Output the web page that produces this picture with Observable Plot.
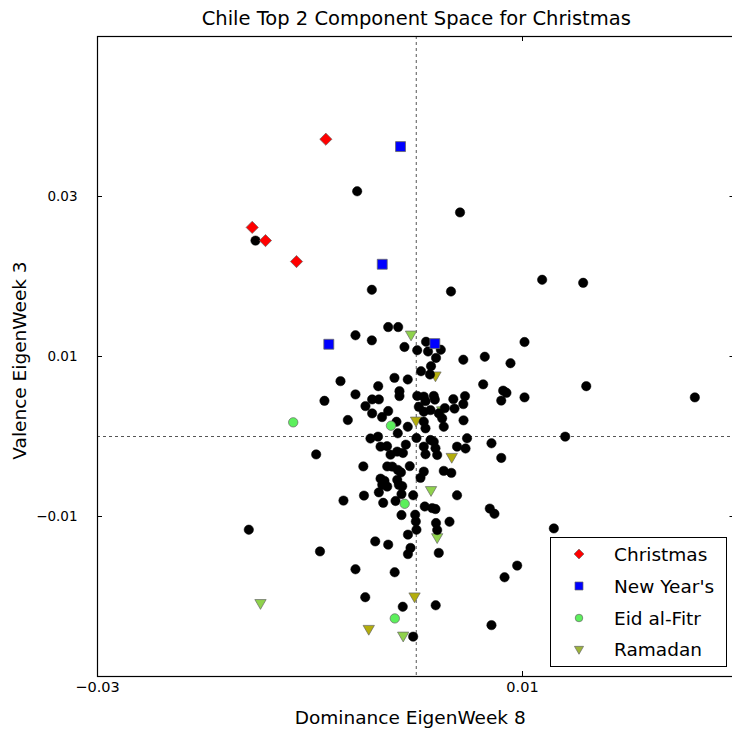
<!DOCTYPE html>
<html><head><meta charset="utf-8">
<script src="https://cdn.jsdelivr.net/npm/d3@7"></script>
<script src="https://cdn.jsdelivr.net/npm/@observablehq/plot@0.6"></script>
<style>
body{margin:0;background:#fff;overflow:hidden;}
#wrap{position:relative;width:732px;height:734px;overflow:hidden;}
#legend{position:absolute;left:550px;top:537px;width:177px;height:130px;border:1px solid #000;background:#fff;font-family:"DejaVu Sans";font-size:18.5px;color:#000;box-sizing:border-box;}
.row{position:absolute;left:0;height:24px;display:flex;align-items:center;white-space:nowrap;}
.row svg{margin-left:17px;margin-right:24px;}
</style></head><body><div id="wrap"></div>
<script>
// ---- data (Dominance EigenWeek 8, Valence EigenWeek 3) ----
const xTicks = [-0.03, 0.01];
const yTicks = [-0.01, 0.01, 0.03];
const seriesNames = ["Christmas", "New Year's", "Eid al-Fitr", "Ramadan"];
const otherWeeks = [
[-0.00556,0.03065],[0.00412,0.02801],[-0.01513,0.02449],[-0.00418,0.01834],[0.00327,0.01813],[0.01185,0.01959],[0.01571,0.01921],
[-0.00264,0.01368],[-0.00170,0.01368],[-0.00572,0.01265],[-0.00418,0.01202],[-0.00111,0.01119],[0.00009,0.01078],[0.00092,0.01184],[0.00111,0.01063],[0.00231,0.01084],[0.00186,0.00982],[0.00443,0.00960],[0.00645,0.00997],[0.00887,0.00916],[0.01019,0.01181],
[0.00139,0.00879],[0.00045,0.00816],[0.00129,0.00775],[-0.00713,0.00692],[-0.00205,0.00733],[-0.00080,0.00713],[-0.00358,0.00629],[-0.00158,0.00567],[-0.00158,0.00505],[-0.00572,0.00526],[-0.00864,0.00446],[-0.00415,0.00464],[-0.00352,0.00464],[-0.00478,0.00380],[-0.00264,0.00318],
[0.00009,0.00507],[0.00071,0.00498],[0.00165,0.00507],[0.00175,0.00461],[0.00087,0.00442],[0.00349,0.00467],[0.00459,0.00505],[0.00443,0.00405],[0.00269,0.00355],[0.00360,0.00349],[0.00024,0.00371],[0.00134,0.00330],
[0.00630,0.00652],[0.00818,0.00573],[0.00849,0.00546],[0.00800,0.00449],[0.01019,0.00489],[0.01600,0.00629],[0.02622,0.00489],
[0.00445,0.00202],[0.01402,-0.00002],[0.00478,-0.00022],[0.00384,-0.00127],[0.00464,-0.00150],[0.00708,-0.00085],[0.00800,-0.00268],[0.00330,-0.00455],[0.00259,-0.00430],[0.00384,-0.00735],[0.00692,-0.00901],[0.00736,-0.00966],[0.00313,-0.01065],[0.01295,-0.01149],
[-0.00644,0.00206],[-0.00415,0.00289],[-0.00322,0.00243],[-0.00186,0.00184],[-0.00080,0.00122],[-0.00431,-0.00025],[-0.00360,-0.00002],[-0.00174,0.00040],[0.00002,-0.00019],
[-0.00336,-0.00127],[-0.00275,-0.00121],[-0.00098,-0.00102],[-0.00242,-0.00227],[-0.00179,-0.00189],[-0.00125,-0.00206],
[-0.00498,-0.00374],[-0.00273,-0.00374],[-0.00226,-0.00376],[-0.00174,-0.00417],[-0.00061,-0.00370],[-0.00144,-0.00449],
[-0.00336,-0.00527],[-0.00299,-0.00555],[-0.00320,-0.00604],[-0.00273,-0.00626],[-0.00179,-0.00542],[-0.00164,-0.00604],[-0.00132,-0.00621],[0.00040,-0.00517],
[-0.00352,-0.00698],[-0.00492,-0.00739],[-0.00139,-0.00720],[-0.00029,-0.00735],[-0.00685,-0.00801],
[0.00071,0.00309],[0.00212,0.00289],[0.00071,0.00184],[0.00087,0.00102],[0.00244,0.00227],[0.00259,0.00122],
[0.00134,-0.00044],[0.00165,-0.00065],[0.00071,-0.00127],[0.00181,-0.00147],[0.00087,-0.00222],[0.00197,-0.00231],[0.00071,-0.00439],
[-0.00311,-0.00829],[-0.00195,-0.00806],[0.00080,-0.00875],[0.00150,-0.00895],[0.00181,-0.00907],
[-0.00139,-0.00982],[-0.00010,-0.00978],[-0.00004,-0.01062],[0.00186,-0.01082],[0.00002,-0.01165],[0.00197,-0.01169],[-0.00078,-0.01227],
[-0.00386,-0.01311],[-0.00264,-0.01352],[-0.00054,-0.01393],[-0.00078,-0.01470],[0.00212,-0.01455],[-0.00906,-0.01436],
[-0.00572,-0.01660],[-0.00203,-0.01697],[-0.00480,-0.02009],[-0.00127,-0.02128],[0.00183,-0.02110],[-0.00029,-0.02502],[0.00708,-0.02358],[0.00950,-0.01614],[0.00831,-0.01760],
[-0.01576,-0.01165],[-0.00942,-0.00224]
];
const christmas = [[-0.00851,0.03716],[-0.01544,0.02614],[-0.01419,0.02449],[-0.01127,0.02187]];
const newYears = [[-0.00148,0.03624],[-0.00320,0.02153],[-0.00823,0.01153],[0.00175,0.01161]];
const eidAlFitr = [[-0.01158,0.00177],[-0.00238,0.00135],[-0.00109,-0.00841],[-0.00202,-0.02274]];
const ramadanA = [[-0.00049,0.01277],[0.00244,0.00330],[0.00139,-0.00667],[0.00197,-0.01256],[-0.00123,-0.02486],[-0.01466,-0.02079]];
const ramadanB = [[0.00181,0.00766],[-0.00002,0.00202],[0.00334,-0.00252],[-0.00016,-0.01996],[-0.00447,-0.02402]];

// ---- styles ----
const font = "DejaVu Sans";
const edge = "#666";
const sty = {
  christmas: {symbol: "diamond2", r: 5.5, fill: "#ff0000", stroke: edge},
  newYears: {symbol: "square", r: 5.6, fill: "#0000ff", stroke: edge},
  eid: {symbol: "circle", r: 4.7, fill: "#5cf05c", stroke: edge},
  ramadanA: {symbol: "triangle", r: 4.2, fill: "#8fd24c", stroke: edge},
  ramadanB: {symbol: "triangle", r: 4.2, fill: "#b3ad0c", stroke: edge}
};
const fmt = d => d.toFixed(2).replace("-", "\u2212");
const px = d => d[0], py = d => d[1];
const innerW = 732 + 2.5 - 97, innerH = 734 - 58 - 36;

const chart = Plot.plot({
  width: 732, height: 734,
  marginLeft: 97, marginRight: -2.5, marginTop: 36, marginBottom: 58,
  x: {domain: [-0.03, 0.03]},
  y: {domain: [-0.03, 0.05]},
  style: {fontFamily: font, background: "white", color: "black", overflow: "hidden"},
  marks: [
    Plot.ruleX([0], {stroke: "#555", strokeDasharray: "3,3", strokeWidth: 1}),
    Plot.ruleY([0], {stroke: "#555", strokeDasharray: "3,3", strokeWidth: 1}),
    Plot.dot(ramadanB, {x: px, y: py, ...sty.ramadanB, rotate: 180, strokeWidth: 0.7}),
    Plot.dot(ramadanA, {x: px, y: py, ...sty.ramadanA, rotate: 180, strokeWidth: 0.7}),
    Plot.dot(otherWeeks, {x: px, y: py, r: 4.7, fill: "black", stroke: "black", strokeWidth: 0.5}),
    Plot.dot(eidAlFitr, {x: px, y: py, ...sty.eid, strokeWidth: 0.7}),
    Plot.dot(newYears, {x: px, y: py, ...sty.newYears, strokeWidth: 0.8}),
    Plot.dot(christmas, {x: px, y: py, ...sty.christmas, strokeWidth: 0.7}),
    Plot.axisX({ticks: xTicks, anchor: "bottom", tickSize: 0, tickPadding: 5, tickFormat: fmt, fontSize: 14.5, label: null}),
    Plot.axisY({ticks: yTicks, anchor: "left", tickSize: 0, tickPadding: 20, tickFormat: fmt, fontSize: 13.5, label: null}),
    Plot.tickX(xTicks, {x: d => d, insetTop: innerH - 5, stroke: "black"}),
    Plot.tickX(xTicks, {x: d => d, insetBottom: innerH - 5, stroke: "black"}),
    Plot.tickY(yTicks, {y: d => d, insetRight: innerW - 5, stroke: "black"}),
    Plot.tickY(yTicks, {y: d => d, insetLeft: innerW - 5, stroke: "black"}),
    Plot.frame({stroke: "black", strokeWidth: 1.2}),
    Plot.text(["Chile Top 2 Component Space for Christmas"], {frameAnchor: "top", lineAnchor: "middle", textAnchor: "middle", dy: -18, fontSize: 19.5, fill: "black"}),
    Plot.text(["Dominance EigenWeek 8"], {frameAnchor: "bottom", lineAnchor: "middle", textAnchor: "middle", dy: 42, dx: -6, fontSize: 18.5, fill: "black"}),
    Plot.text(["Valence EigenWeek 3"], {frameAnchor: "left", lineAnchor: "middle", textAnchor: "middle", dx: -77, dy: 4, rotate: -90, fontSize: 18.5, fill: "black"})
  ]
});
const wrap = document.getElementById("wrap");
wrap.appendChild(chart);

// ---- legend ----
const legend = document.createElement("div");
legend.id = "legend";
wrap.appendChild(legend);
const legendItems = [
  {name: seriesNames[0], s: sty.christmas, sym: d3.symbolDiamond2, rot: 0},
  {name: seriesNames[1], s: sty.newYears, sym: d3.symbolSquare, rot: 0},
  {name: seriesNames[2], s: sty.eid, sym: d3.symbolCircle, rot: 0},
  {name: seriesNames[3], s: {...sty.ramadanA, fill: "#9db43a"}, sym: d3.symbolTriangle, rot: 180}
];
const rowCenters = [16, 48, 80, 111];
legendItems.forEach((it, i) => {
  const row = document.createElement("div");
  row.className = "row";
  row.style.top = (rowCenters[i] - 12) + "px";
  const svg = d3.create("svg").attr("width", 22).attr("height", 22);
  svg.append("path")
    .attr("d", d3.symbol(it.sym, it.s.r * it.s.r * Math.PI * 0.65)())
    .attr("transform", `translate(11,11) rotate(${it.rot})`)
    .attr("fill", it.s.fill).attr("stroke", it.s.stroke).attr("stroke-width", 0.7);
  row.appendChild(svg.node());
  const t = document.createElement("span");
  t.textContent = it.name;
  row.appendChild(t);
  legend.appendChild(row);
});
</script>
</body></html>
